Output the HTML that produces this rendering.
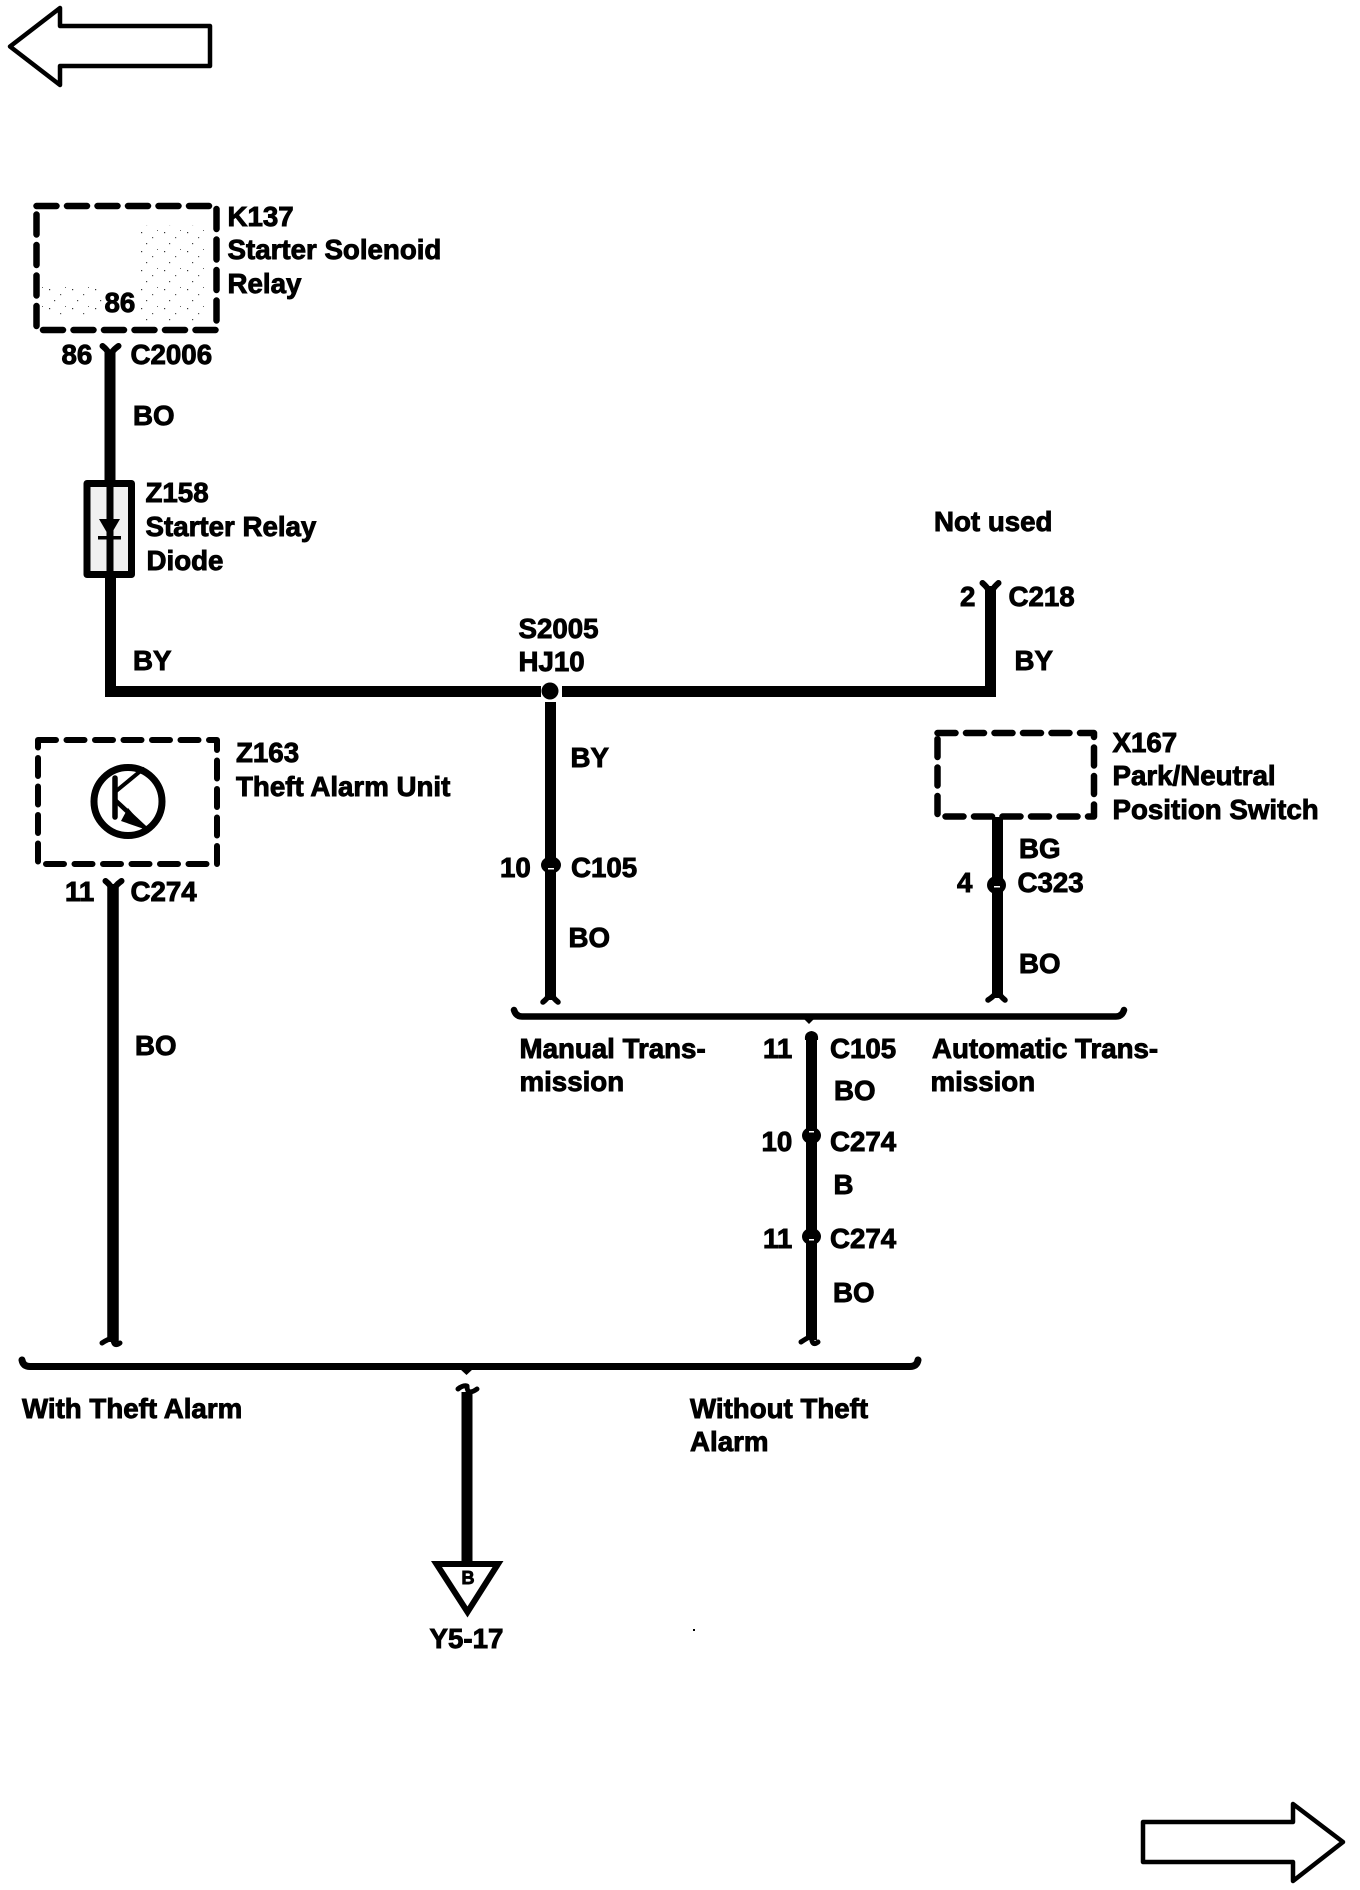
<!DOCTYPE html>
<html>
<head>
<meta charset="utf-8">
<style>
html,body{margin:0;padding:0;background:#fff}
svg{display:block}
text{font-family:"Liberation Sans",Arial,sans-serif;font-weight:700;font-size:27.7px;fill:#000;stroke:#000;stroke-width:.9px}
</style>
</head>
<body>
<svg width="1360" height="1890" viewBox="0 0 1360 1890" xmlns="http://www.w3.org/2000/svg">
<defs>
<pattern id="spk" width="23" height="19" patternUnits="userSpaceOnUse">
<rect x="3" y="4" width="1.2" height="1.2" fill="#333"/><rect x="14" y="9" width="1.2" height="1.2" fill="#555"/><rect x="8" y="15" width="1.2" height="1.2" fill="#444"/><rect x="19" y="2" width="1" height="1" fill="#666"/>
</pattern>
</defs>
<rect width="1360" height="1890" fill="#fff"/>

<!-- page arrows -->
<polygon points="10,46.5 60,8 60,26 210,26 210,66 60,66 60,85" fill="#fff" stroke="#000" stroke-width="4.5" stroke-linejoin="round"/>
<polygon points="1143,1822 1293,1822 1293,1804 1343,1842 1293,1881 1293,1862 1143,1862" fill="#fff" stroke="#000" stroke-width="4.5" stroke-linejoin="round"/>

<g fill="none" stroke="#000" stroke-linecap="round" stroke-linejoin="round">
<!-- K137 -->
<rect x="140" y="225" width="70" height="100" fill="url(#spk)" stroke="none"/>
<rect x="42" y="285" width="60" height="30" fill="url(#spk)" stroke="none"/>
<rect x="36.5" y="206" width="180" height="124" stroke-width="6.5" stroke-dasharray="20 10.5"/>
<!-- Z163 -->
<rect x="38" y="740" width="179" height="124" stroke-width="6" stroke-dasharray="18 10.5"/>
<circle cx="128" cy="801.5" r="34" stroke-width="7"/>
<path d="M115,778V817" stroke-width="5.5"/>
<path d="M115,792L143,769" stroke-width="4"/>
<path d="M115,800L145,828" stroke-width="4.5"/>
<!-- X167 -->
<rect x="937.5" y="733" width="156.5" height="83.5" stroke-width="6.5" stroke-dasharray="18 10.5"/>

<!-- wires -->
<path d="M110,350V486M110.5,577V691.5H541" stroke-width="11" stroke-linecap="butt" stroke-linejoin="miter"/>
<path d="M562,691.5H990.5V586" stroke-width="11" stroke-linecap="butt" stroke-linejoin="miter"/>
<path d="M550.5,702V1000" stroke-width="11" stroke-linecap="butt"/>
<path d="M113,884V1342" stroke-width="11.5" stroke-linecap="butt"/>
<path d="M997.5,817V998" stroke-width="11" stroke-linecap="butt"/>
<path d="M811.5,1036V1340" stroke-width="11" stroke-linecap="butt"/>
<path d="M467,1392V1562" stroke-width="11" stroke-linecap="butt"/>

<!-- diode fuse box -->
<rect x="87" y="483.5" width="44.5" height="91" stroke-width="7" fill="#f0f0f0"/>
<path d="M110,486V576" stroke-width="7" stroke-linecap="butt"/>

<!-- Y-forks top -->
<path d="M102.5,346Q110,352 110,358Q110,352 118.5,346" stroke-width="6"/>
<path d="M105.5,881Q113,887 113,893Q113,887 121.5,881" stroke-width="6"/>
<path d="M982.5,583Q990.5,590 990.5,596Q990.5,590 998.5,583" stroke-width="6"/>
<!-- forks bottom -->
<path d="M543,1002Q550.5,996 550.5,990Q550.5,996 558,1002" stroke-width="5.5"/>
<path d="M988,1000Q997.5,994 997.5,988Q997.5,994 1005,1000" stroke-width="5.5"/>
<path d="M102,1343Q108,1339 113,1338Q113,1348 120,1343" stroke-width="5"/>
<path d="M801,1342Q807,1338 811.5,1336Q811.5,1347 818,1342" stroke-width="5"/>
<path d="M458,1389Q463,1385 467,1386Q467,1396 477,1389" stroke-width="5"/>

<!-- bus lines -->
<path d="M514,1010Q516,1016.5 522,1016.5H1116Q1122,1016.5 1124,1010" stroke-width="6.5"/>
<path d="M22,1360Q23,1366.5 30,1366.5H910Q917,1366.5 918,1360" stroke-width="7"/>

<!-- triangle connector -->
<polygon points="436.5,1564 498,1564 467.5,1612" stroke-width="6" fill="#fff" stroke-linejoin="miter"/>
</g>

<!-- solid details -->
<g fill="#000">
<circle cx="550" cy="691" r="8.5"/>
<polygon points="99,519 120,519 109.5,537"/>
<rect x="98" y="536" width="23" height="3.5"/>
<polygon points="128,808 147,830 121,821"/>
<polygon points="809,1024 803,1018 815,1018"/>
<polygon points="466.5,1375 460,1369 473,1369"/>
<path d="M805,1040Q804,1032 811.5,1031Q819,1032 818,1040Z"/>
<ellipse cx="551" cy="865" rx="10" ry="8.5"/>
<ellipse cx="996.5" cy="885" rx="9.5" ry="9"/>
<ellipse cx="811.5" cy="1135.5" rx="9.5" ry="8.5"/>
<ellipse cx="811.5" cy="1236.5" rx="9.5" ry="8.5"/>
<rect x="693" y="1629" width="2" height="2"/>
</g>
<g fill="#fff">
<rect x="548" y="868" width="6" height="1.5"/>
<rect x="994" y="886" width="6" height="1.5"/>
<rect x="809" y="1131" width="5" height="1.5"/>
<rect x="809" y="1239" width="5" height="1.5"/>
</g>

<!-- labels -->
<text x="227.5" y="226">K137</text>
<text x="227.5" y="259">Starter Solenoid</text>
<text x="227.5" y="293">Relay</text>
<text x="104.5" y="312">86</text>
<text x="61.5" y="364">86</text>
<text x="130.5" y="364">C2006</text>
<text x="133" y="425">BO</text>

<text x="145.5" y="502">Z158</text>
<text x="145.5" y="536">Starter Relay</text>
<text x="146.5" y="570">Diode</text>
<text x="133" y="670">BY</text>
<text x="518.5" y="638">S2005</text>
<text x="518.5" y="671">HJ10</text>
<text x="570.5" y="767">BY</text>
<text x="500" y="877">10</text>
<text x="571" y="877">C105</text>
<text x="568.5" y="947">BO</text>

<text x="236" y="762">Z163</text>
<text x="236" y="796">Theft Alarm Unit</text>
<text x="65" y="901">11</text>
<text x="130.5" y="901">C274</text>
<text x="135" y="1055">BO</text>

<text x="934" y="531">Not used</text>
<text x="960" y="606">2</text>
<text x="1008.5" y="606">C218</text>
<text x="1014.5" y="670">BY</text>
<text x="1112.5" y="752">X167</text>
<text x="1112.5" y="785">Park/Neutral</text>
<text x="1112.5" y="819">Position Switch</text>
<text x="1019" y="858">BG</text>
<text x="957" y="892">4</text>
<text x="1017.5" y="892">C323</text>
<text x="1019" y="973">BO</text>

<text x="519.5" y="1058">Manual Trans-</text>
<text x="519.5" y="1091">mission</text>
<text x="763" y="1058">11</text>
<text x="830" y="1058">C105</text>
<text x="932" y="1058">Automatic Trans-</text>
<text x="930.5" y="1091">mission</text>
<text x="834" y="1100">BO</text>
<text x="761.5" y="1151">10</text>
<text x="830" y="1151">C274</text>
<text x="833.5" y="1194">B</text>
<text x="763" y="1248">11</text>
<text x="830" y="1248">C274</text>
<text x="833" y="1302">BO</text>

<text x="22" y="1418">With Theft Alarm</text>
<text x="690" y="1418">Without Theft</text>
<text x="690" y="1451">Alarm</text>
<text x="461.5" y="1584" style="font-size:18px">B</text>
<text x="429.5" y="1648">Y5-17</text>
</svg>
</body>
</html>
